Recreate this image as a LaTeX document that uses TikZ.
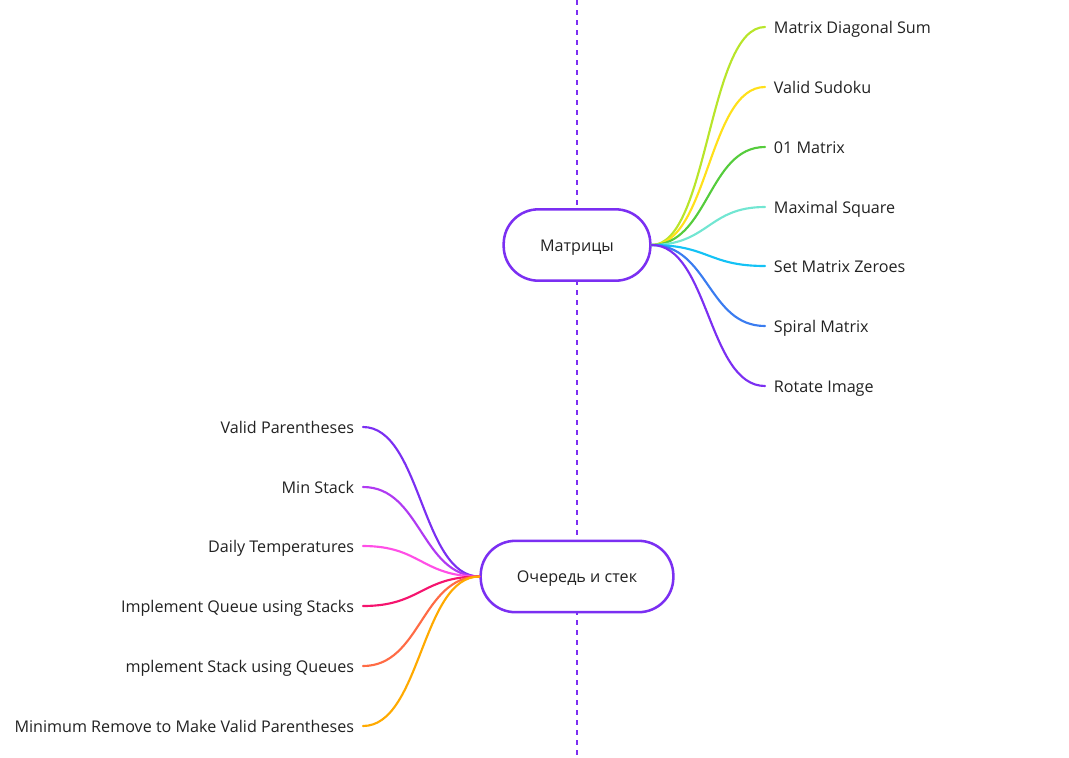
\documentclass[tikz,border=0pt]{standalone}
\usepackage{fontspec}
\setmainfont{Open Sans}
\usepackage{xcolor}

\definecolor{ink}{HTML}{222222}
\definecolor{axis}{HTML}{7B2FF2}
\definecolor{lime}{HTML}{B8E52A}
\definecolor{sun}{HTML}{FFE01A}
\definecolor{grass}{HTML}{55CC3C}
\definecolor{aqua}{HTML}{72E6D2}
\definecolor{sky}{HTML}{14C2F5}
\definecolor{ocean}{HTML}{3A7CF0}
\definecolor{grape}{HTML}{7B2FF2}
\definecolor{orchid}{HTML}{B03AF2}
\definecolor{candy}{HTML}{FF4FE6}
\definecolor{crimson}{HTML}{F5146E}
\definecolor{coral}{HTML}{FF6B45}
\definecolor{amber}{HTML}{FFAA00}

\begin{document}
\begin{tikzpicture}[x=0.75pt, y=-0.75pt,
  topic/.style={draw=grape, line width=1.9pt, fill=white, rounded corners=26pt,
    minimum height=53.5pt, text height=9pt, text depth=0pt,
    font=\fontsize{12.1}{14}\selectfont, text=ink},
  leaf/.style={inner xsep=6.5pt, inner ysep=0pt, text height=9pt, text depth=0pt,
    font=\fontsize{12.1}{14}\selectfont, text=ink},
  link/.style={line width=1.6pt, line cap=round}]
\useasboundingbox (0,0) rectangle (1069,757);

% Guide line
\coordinate (top) at (577,0);
\coordinate (bottom) at (577,757);
\draw[draw=axis, line width=0.8pt, dash pattern=on 3.75pt off 3.75pt] (top) -- (bottom);

% Topics
\node[topic, minimum width=110pt] (mat) at (577,245) {Матрицы};
\node[topic, minimum width=144.5pt] (que) at (577,576.5) {Очередь и стек};

% Matrix leaves
\node[leaf, anchor=west] (mds) at (765,27) {Matrix Diagonal Sum};
\node[leaf, anchor=west] (sud) at (765,87) {Valid Sudoku};
\node[leaf, anchor=west] (zom) at (765,147) {01 Matrix};
\node[leaf, anchor=west] (msq) at (765,207) {Maximal Square};
\node[leaf, anchor=west] (smz) at (765,266) {Set Matrix Zeroes};
\node[leaf, anchor=west] (spm) at (765,326) {Spiral Matrix};
\node[leaf, anchor=west] (rot) at (765,386) {Rotate Image};

% Stack leaves
\node[leaf, anchor=east] (vpa) at (363,427) {Valid Parentheses};
\node[leaf, anchor=east] (mst) at (363,487) {Min Stack};
\node[leaf, anchor=east] (dtm) at (363,546) {Daily Temperatures};
\node[leaf, anchor=east] (iqs) at (363,606) {Implement Queue using Stacks};
\node[leaf, anchor=east] (isq) at (363,666) {mplement Stack using Queues};
\node[leaf, anchor=east] (mrv) at (363,726) {Minimum Remove to Make Valid Parentheses};

% Links right
\draw[link, lime] (mat.east) .. controls +(57,0) and +(-57,0) .. (mds.west);
\draw[link, sun] (mat.east) .. controls +(57,0) and +(-57,0) .. (sud.west);
\draw[link, grass] (mat.east) .. controls +(57,0) and +(-57,0) .. (zom.west);
\draw[link, aqua] (mat.east) .. controls +(57,0) and +(-57,0) .. (msq.west);
\draw[link, sky] (mat.east) .. controls +(57,0) and +(-57,0) .. (smz.west);
\draw[link, ocean] (mat.east) .. controls +(57,0) and +(-57,0) .. (spm.west);
\draw[link, grape] (mat.east) .. controls +(57,0) and +(-57,0) .. (rot.west);

% Links left
\draw[link, grape] (que.west) .. controls +(-58,0) and +(58,0) .. (vpa.east);
\draw[link, orchid] (que.west) .. controls +(-58,0) and +(58,0) .. (mst.east);
\draw[link, candy] (que.west) .. controls +(-58,0) and +(58,0) .. (dtm.east);
\draw[link, crimson] (que.west) .. controls +(-58,0) and +(58,0) .. (iqs.east);
\draw[link, coral] (que.west) .. controls +(-58,0) and +(58,0) .. (isq.east);
\draw[link, amber] (que.west) .. controls +(-58,0) and +(58,0) .. (mrv.east);
\end{tikzpicture}
\end{document}
